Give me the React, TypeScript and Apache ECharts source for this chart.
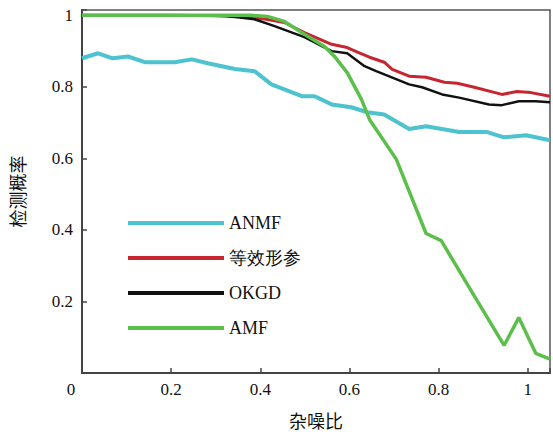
import React, { useEffect, useRef } from "react";
import * as echarts from "echarts";

const seriesNames = ["ANMF", "等效形参", "OKGD", "AMF"];
const seriesColors = ["#4cc3cf", "#c4272f", "#111111", "#5cbf4b"];

const anmfX = [0, 0.036, 0.069, 0.103, 0.141, 0.208, 0.246, 0.282, 0.343, 0.387, 0.425, 0.454, 0.493, 0.522, 0.56, 0.604, 0.64, 0.678, 0.734, 0.772, 0.846, 0.907, 0.947, 0.996, 1.05];
const anmfY = [0.88, 0.894, 0.88, 0.885, 0.869, 0.869, 0.877, 0.866, 0.85, 0.844, 0.807, 0.793, 0.774, 0.774, 0.751, 0.743, 0.729, 0.723, 0.682, 0.69, 0.674, 0.674, 0.659, 0.665, 0.651];

const dxcX = [0, 0.2, 0.35, 0.41, 0.454, 0.499, 0.56, 0.595, 0.618, 0.645, 0.678, 0.696, 0.734, 0.772, 0.813, 0.842, 0.88, 0.942, 0.976, 1.007, 1.05];
const dxcY = [1.0, 1.0, 0.998, 0.99, 0.98, 0.952, 0.919, 0.91, 0.897, 0.883, 0.869, 0.849, 0.83, 0.827, 0.813, 0.81, 0.799, 0.779, 0.787, 0.784, 0.774];

const okgdX = [0, 0.25, 0.32, 0.354, 0.387, 0.432, 0.499, 0.56, 0.595, 0.634, 0.66, 0.734, 0.763, 0.808, 0.846, 0.913, 0.942, 0.98, 1.018, 1.05];
const okgdY = [1.0, 1.0, 0.998, 0.994, 0.989, 0.97, 0.939, 0.9, 0.894, 0.858, 0.844, 0.807, 0.799, 0.779, 0.77, 0.751, 0.749, 0.76, 0.76, 0.757];

const amfX = [0, 0.3, 0.38, 0.416, 0.454, 0.499, 0.544, 0.566, 0.595, 0.627, 0.645, 0.705, 0.772, 0.806, 0.875, 0.947, 0.98, 1.018, 1.05];
const amfY = [1.0, 1.0, 1.0, 0.997, 0.983, 0.947, 0.913, 0.886, 0.84, 0.765, 0.709, 0.598, 0.39, 0.37, 0.226, 0.077, 0.155, 0.055, 0.039];

const xs = [anmfX, dxcX, okgdX, amfX];
const ys = [anmfY, dxcY, okgdY, amfY];
const widths = [4, 3, 2.5, 3.5];

const isStep = (v: number) => Math.abs(v * 5 - Math.round(v * 5)) < 1e-6;
const fmt = (v: number) => {
  const r = Math.round(v * 10) / 10;
  return r === 1 ? "1" : r === 0 ? "0" : r.toFixed(1);
};

export default function App() {
  const ref = useRef<HTMLDivElement>(null);
  useEffect(() => {
    if (!ref.current) return;
    const chart = echarts.init(ref.current, null, { renderer: "svg" });
    const serif = "Times New Roman";
    const cjk = "Noto Sans CJK SC";
    chart.setOption({
      animation: false,
      backgroundColor: "#ffffff",
      grid: {
        left: 82,
        right: 2,
        top: 10,
        bottom: 60,
        show: true,
        borderColor: "#555",
        borderWidth: 1.5,
      },
      legend: {
        orient: "vertical",
        left: 123,
        top: 209,
        itemWidth: 96,
        itemHeight: 4,
        itemGap: 17,
        icon: "rect",
        textStyle: { fontFamily: "serif", fontSize: 18, color: "#111" },
        data: seriesNames,
      },
      xAxis: {
        type: "value",
        min: 0,
        max: 1.05,
        interval: 0.2,
        name: "杂噪比",
        nameLocation: "middle",
        nameGap: 38,
        nameTextStyle: { fontFamily: cjk, fontSize: 18, color: "#111" },
        axisLine: { show: true, lineStyle: { color: "#444", width: 2 } },
        axisTick: { show: true, inside: true, length: 5, lineStyle: { color: "#444", width: 1.5 } },
        splitLine: { show: false },
        axisLabel: {
          margin: 8,
          fontFamily: serif,
          fontSize: 17,
          color: "#111",
          formatter: (v: number) => {
            if (!isStep(v)) return "";
            if (Math.abs(v) < 1e-9) return "{z|0}";
            return fmt(v);
          },
          rich: {
            z: { fontFamily: serif, fontSize: 17, color: "#111", padding: [0, 22, 0, 0] },
          },
        },
      },
      yAxis: {
        type: "value",
        min: 0,
        max: 1.015,
        interval: 0.2,
        name: "检测概率",
        nameLocation: "middle",
        nameGap: 56,
        nameRotate: 90,
        nameTextStyle: { fontFamily: cjk, fontSize: 18, color: "#111" },
        axisLine: { show: true, lineStyle: { color: "#444", width: 2 } },
        axisTick: { show: true, inside: true, length: 5, lineStyle: { color: "#444", width: 1.5 } },
        splitLine: { show: false },
        axisLabel: {
          margin: 9,
          fontFamily: serif,
          fontSize: 17,
          color: "#111",
          formatter: (v: number) => {
            if (!isStep(v) || Math.abs(v) < 1e-9) return "";
            return fmt(v);
          },
        },
      },
      series: seriesNames.map((name, i) => ({
        name,
        type: "line",
        showSymbol: false,
        symbol: "none",
        color: seriesColors[i],
        lineStyle: { color: seriesColors[i], width: widths[i] },
        data: xs[i].map((x, j) => [x, ys[i][j]]),
        z: 2 + i,
      })),
    });
    return () => chart.dispose();
  }, []);
  return (
    <div
      ref={ref}
      style={{ position: "fixed", left: 0, top: 0, width: 553, height: 434 }}
    />
  );
}
